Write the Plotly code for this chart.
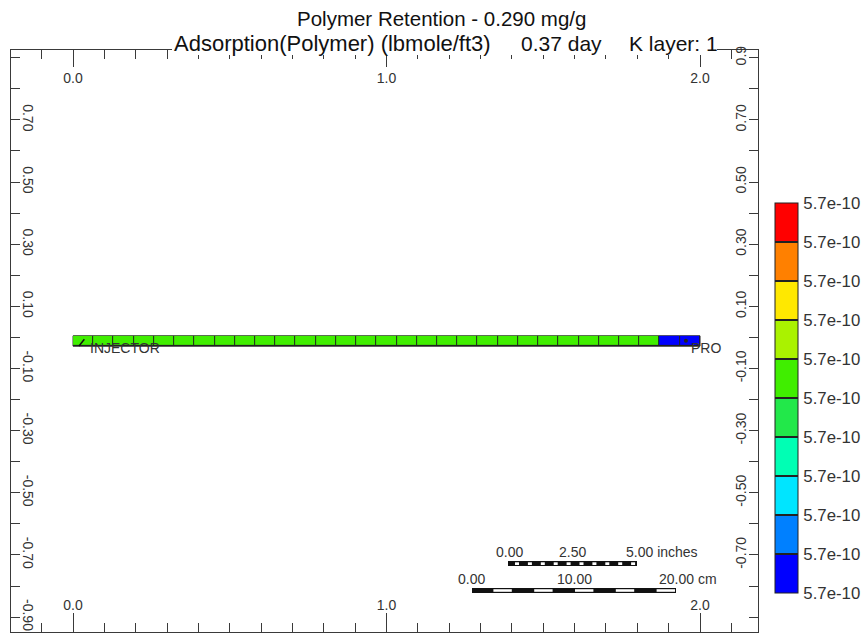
import plotly.graph_objects as go
import numpy as np

# ---------------- data ----------------
TITLE_1 = "Polymer Retention - 0.290 mg/g"
TITLE_2_PROPERTY = "Adsorption(Polymer) (lbmole/ft3)"
TITLE_2_TIME = "0.37 day"
TITLE_2_LAYER = "K layer: 1"

# grid block values (lbmole/ft3), injector -> producer, 31 blocks in I direction
CELL_VALUES = [5.7005e-10] * 29 + [5.6955e-10, 5.6955e-10]
GRID_LENGTH = 2.0
N_CELLS = len(CELL_VALUES)
STRIP_Y = [-0.028, 0.005]

# colour legend (bottom -> top), boundaries and labels
LEGEND_COLORS = ["#0000ff", "#0080ff", "#00e5ff", "#00ffb4", "#22e84a",
                 "#40ee00", "#aaf200", "#ffe800", "#ff8000", "#ff0000"]
LEGEND_MIN = 5.695e-10
LEGEND_MAX = 5.705e-10
LEGEND_TICKTEXT = ["5.7e-10"] * 11

# axis tick labels
X_TICKVALS = [0.0, 1.0, 2.0]
X_TICKTEXT = ["0.0", "1.0", "2.0"]
YL_TICKVALS = [0.7, 0.5, 0.3, 0.1, -0.1, -0.3, -0.5, -0.7, -0.9]
YL_TICKTEXT = ["0.70", "0.50", "0.30", "0.10", "-0.10", "-0.30", "-0.50", "-0.70", "-0.90"]
YR_TICKVALS = [0.9, 0.7, 0.5, 0.3, 0.1, -0.1, -0.3, -0.5, -0.7]
YR_TICKTEXT = ["0.9", "0.70", "0.50", "0.30", "0.10", "-0.10", "-0.30", "-0.50", "-0.70"]

# wells
WELL_NAMES = ["INJECTOR", "PRO"]
WELL_X = [0.0, 1.955]

# scale bars
INCH_LABELS = ["0.00", "2.50", "5.00 inches"]
CM_LABELS = ["0.00", "10.00", "20.00 cm"]

# ---------------- layout helpers ----------------
W, H = 867, 633
L, R, T, B = 11, 758, 50, 632
X_RANGE = [-0.198, 2.185]
Y_RANGE = [-0.948, 0.925]
FONT = "Liberation Sans, Arial, sans-serif"
AXC = "#3a3a3a"
TXT = "#333333"


def pxx(px):
    return (px - L) / (R - L)


def pxy(py):
    return (B - py) / (B - T)


# colourscale with thin dark separators between bands
eps = 0.0014
nb = len(LEGEND_COLORS)
cs = []
for i, c in enumerate(LEGEND_COLORS):
    a = i / nb
    b = (i + 1) / nb
    cs.append([a + eps if i > 0 else 0.0, c])
    cs.append([b - eps if i < nb - 1 else 1.0, c])
    if i < nb - 1:
        cs.append([b - eps, "#222222"])
        cs.append([b + eps, "#222222"])

x_edges = np.linspace(0.0, GRID_LENGTH, N_CELLS + 1)
legend_ticks = np.linspace(LEGEND_MIN, LEGEND_MAX, len(LEGEND_TICKTEXT))

fig = go.Figure()

fig.add_trace(go.Heatmap(
    z=[CELL_VALUES], x=x_edges, y=STRIP_Y,
    zmin=LEGEND_MIN, zmax=LEGEND_MAX, colorscale=cs,
    xgap=1, ygap=1, hoverinfo="skip",
    colorbar=dict(
        x=pxx(775), xanchor="left", y=pxy(203), yanchor="top",
        len=390, lenmode="pixels", thickness=23, thicknessmode="pixels",
        outlinewidth=1, outlinecolor="#222222", xpad=0, ypad=0,
        tickmode="array", tickvals=list(legend_ticks), ticktext=LEGEND_TICKTEXT,
        ticks="outside", ticklen=2, tickcolor="rgba(0,0,0,0)",
        tickfont=dict(family=FONT, size=16.8, color=TXT),
    ),
))

# injector symbol and producer dot
fig.add_trace(go.Scatter(
    x=[WELL_X[0] + 0.019, WELL_X[0] + 0.036], y=[-0.0277, -0.006],
    mode="lines", line=dict(color="#111111", width=1.5),
    showlegend=False, hoverinfo="skip"))
fig.add_trace(go.Scatter(
    x=[WELL_X[1]], y=[-0.011], mode="markers",
    marker=dict(color="#222222", size=4),
    showlegend=False, hoverinfo="skip"))
fig.add_trace(go.Scatter(x=[None], y=[None], xaxis="x2", yaxis="y2",
                         showlegend=False, hoverinfo="skip"))

shapes = []
# dark underlay for the block outlines
shapes.append(dict(type="rect", xref="x", yref="y", layer="below",
                   x0=x_edges[0], x1=x_edges[-1], y0=STRIP_Y[0], y1=STRIP_Y[1],
                   fillcolor="#222222", line=dict(color="#222222", width=1)))
# white mask behind the second title line
shapes.append(dict(type="rect", xref="paper", yref="paper", layer="above",
                   x0=pxx(172), x1=pxx(717), y0=pxy(55), y1=pxy(30),
                   fillcolor="white", line=dict(width=0)))

# inch scale bar
ix0, ix1, iy0, iy1 = 508, 637, 561, 566
shapes.append(dict(type="rect", xref="paper", yref="paper", x0=pxx(ix0), x1=pxx(ix1),
                   y0=pxy(iy1), y1=pxy(iy0), fillcolor="#111111", line=dict(width=0)))
seg = (ix1 - ix0) / 10
for k in range(10):
    cx = ix0 + 9 + seg * k
    shapes.append(dict(type="rect", xref="paper", yref="paper",
                       x0=pxx(cx - 2), x1=pxx(cx + 2), y0=pxy(565), y1=pxy(562.3),
                       fillcolor="white", line=dict(width=0)))
# cm scale bar
cx0, cx1, cy0, cy1 = 472, 676, 588, 593
shapes.append(dict(type="rect", xref="paper", yref="paper", x0=pxx(cx0), x1=pxx(cx1),
                   y0=pxy(cy1), y1=pxy(cy0), fillcolor="#111111", line=dict(width=0)))
seg = (cx1 - cx0) / 10
for k in range(1, 10, 2):
    shapes.append(dict(type="rect", xref="paper", yref="paper",
                       x0=pxx(cx0 + seg * k + 1), x1=pxx(cx0 + seg * (k + 1) - 1),
                       y0=pxy(cy1 - 1.2), y1=pxy(cy0 + 1.2),
                       fillcolor="white", line=dict(width=0)))

ann = []


def add_text(text, x, y, size, xanchor="center", yanchor="middle", color=TXT, xref="paper", yref="paper"):
    ann.append(dict(text=text, x=x, y=y, xref=xref, yref=yref, showarrow=False,
                    xanchor=xanchor, yanchor=yanchor,
                    font=dict(family=FONT, size=size, color=color)))


add_text(TITLE_1, pxx(442), pxy(19), 20.5, color="#111111")
add_text(TITLE_2_PROPERTY, pxx(172), pxy(43), 22, xanchor="left", color="#111111")
add_text(TITLE_2_TIME, pxx(519), pxy(43), 21, xanchor="left", color="#111111")
add_text(TITLE_2_LAYER, pxx(627), pxy(43), 21, xanchor="left", color="#111111")

add_text(WELL_NAMES[0], WELL_X[0] + 0.048, -0.034, 14, xanchor="left", xref="x", yref="y")
add_text(WELL_NAMES[1], WELL_X[1] + 0.011, -0.034, 14, xanchor="left", xref="x", yref="y")

add_text(INCH_LABELS[0], pxx(509), pxy(552), 14)
add_text(INCH_LABELS[1], pxx(572), pxy(552), 14)
add_text(INCH_LABELS[2], pxx(624), pxy(552), 14, xanchor="left")
add_text(CM_LABELS[0], pxx(471), pxy(579), 14)
add_text(CM_LABELS[1], pxx(574), pxy(579), 14)
add_text(CM_LABELS[2], pxx(657), pxy(579), 14, xanchor="left")

minor_x = dict(ticks="inside", ticklen=9, tickwidth=1, tickcolor=AXC, tick0=0, dtick=0.1, showgrid=False)
minor_y = dict(ticks="inside", ticklen=9, tickwidth=1, tickcolor=AXC, tick0=0, dtick=0.1, showgrid=False)
common = dict(showline=True, linecolor=AXC, linewidth=1, showgrid=False, zeroline=False,
              ticks="inside", tickwidth=1, tickcolor=AXC, ticklabelposition="inside",
              ticklabeloverflow="allow", automargin=False,
              tickfont=dict(family=FONT, size=14, color=TXT), tickmode="array")

fig.update_layout(
    width=W, height=H,
    margin=dict(l=L, r=W - R, t=T, b=H - B, pad=0),
    paper_bgcolor="white", plot_bgcolor="white",
    showlegend=False,
    xaxis=dict(range=X_RANGE, side="bottom", anchor="y", tickvals=X_TICKVALS, ticktext=X_TICKTEXT,
               ticklen=19, minor=minor_x, **common),
    xaxis2=dict(range=X_RANGE, side="top", anchor="y", overlaying="x", matches="x",
                tickvals=X_TICKVALS, ticktext=X_TICKTEXT, ticklen=17, minor=minor_x,
                ticklabelstandoff=6, **common),
    yaxis=dict(range=Y_RANGE, side="left", anchor="x", tickvals=YL_TICKVALS, ticktext=YL_TICKTEXT,
               ticklen=9, tickangle=90, minor=minor_y, **common),
    yaxis2=dict(range=Y_RANGE, side="right", anchor="x", overlaying="y", matches="y",
                tickvals=YR_TICKVALS, ticktext=YR_TICKTEXT, ticklen=9, tickangle=-90,
                minor=minor_y, **common),
    shapes=shapes,
    annotations=ann,
)

fig.write_html("out.html")
